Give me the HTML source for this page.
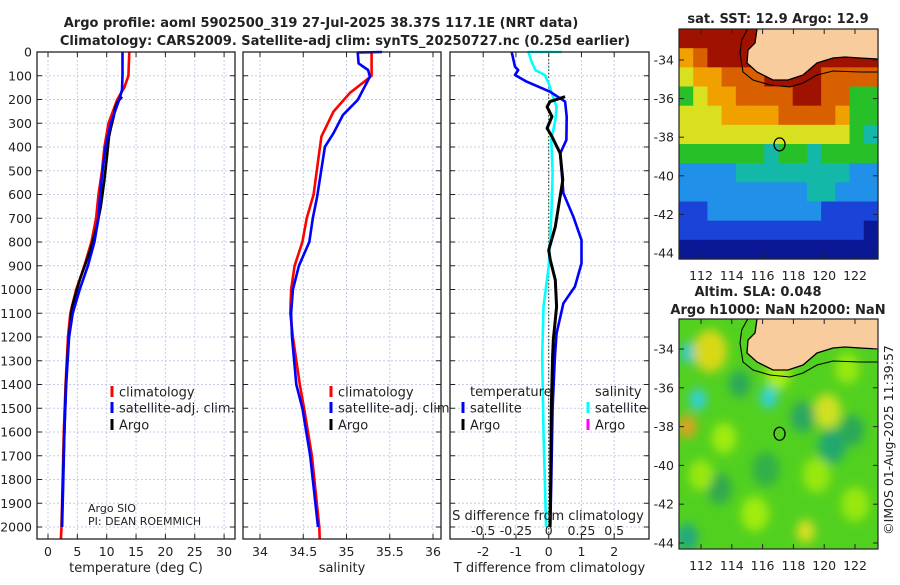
<!DOCTYPE html>
<html><head><meta charset="utf-8"><style>
body{margin:0;background:#fff}
svg text{font-family:"DejaVu Sans","Liberation Sans",sans-serif;fill:#222}
</style></head><body>
<svg id="fig" width="900" height="580" viewBox="0 0 900 580" xmlns="http://www.w3.org/2000/svg">
<text x="321" y="27" font-size="13" font-weight="bold" text-anchor="middle">Argo profile: aoml 5902500_319 27-Jul-2025 38.37S 117.1E (NRT data)</text>
<text x="345" y="45" font-size="13" font-weight="bold" text-anchor="middle">Climatology: CARS2009. Satellite-adj clim: synTS_20250727.nc (0.25d earlier)</text>
<g id="p1"></g>
<g id="p2"></g>
<g id="p3"></g>
<g id="m1"></g>
<g id="m2"></g>
<text x="778" y="23" font-size="13" font-weight="bold" text-anchor="middle">sat. SST: 12.9 Argo: 12.9</text>
<text x="758" y="296" font-size="13" font-weight="bold" text-anchor="middle">Altim. SLA: 0.048</text>
<text x="778" y="314" font-size="13" font-weight="bold" text-anchor="middle">Argo h1000: NaN h2000: NaN</text>
<text x="0" y="0" font-size="12.5" text-anchor="middle" transform="translate(893,440) rotate(-90)">©IMOS 01-Aug-2025 11:39:57</text>
</svg>
<script>
// ---------- data ----------
const depthTicks=[0,100,200,300,400,500,600,700,800,900,1000,1100,1200,1300,1400,1500,1600,1700,1800,1900,2000];
const tTicks=[0,5,10,15,20,25,30];
const sTicks=[34,34.5,35,35.5,36];
const dTTicks=[-2,-1,0,1,2];
const dSTicks=[-0.5,-0.25,0,0.25,0.5];
const dSTickLabels=["-0.5","-0.25","0","0.25","0.5"];
const climTdep=[0,100,150,170,200,300,400,500,600,700,800,900,1000,1100,1200,1400,1600,1800,2000,2050];
const climT=[13.85,13.7,13.0,12.5,11.8,10.3,9.6,9.2,8.6,8.2,7.4,6.2,4.8,3.8,3.4,3.0,2.7,2.5,2.3,2.2];
const satTdep=[0,100,160,200,300,400,500,600,700,800,900,1000,1100,1200,1400,1600,1800,2000];
const satT=[12.7,12.7,12.6,12.15,10.7,9.8,9.3,8.9,8.6,7.9,6.8,5.4,4.2,3.6,3.1,2.8,2.6,2.4];
const argoTdep=[188,209,231,272,321,356,427,539,651,736,834,960,1072,1212,1400,1700,2000];
const argoT=[12.6,11.9,11.5,11.2,10.7,10.4,10.1,9.6,9.0,8.3,7.2,5.4,4.1,3.5,3.05,2.65,2.35];
const climSdep=[0,100,118,172,251,356,461,600,700,800,900,1000,1100,1200,1400,1500,1700,2000,2050];
const climS=[35.29,35.29,35.23,35.04,34.85,34.71,34.67,34.62,34.54,34.49,34.40,34.36,34.35,34.38,34.46,34.51,34.60,34.685,34.69];
const satSdep=[0,2,48,76,104,202,265,342,399,610,700,800,900,1000,1100,1200,1400,1500,1700,2000];
const satS=[35.41,35.13,35.14,35.25,35.27,35.13,34.96,34.85,34.75,34.66,34.61,34.57,34.45,34.38,34.36,34.37,34.42,34.49,34.58,34.67];
const dTsatDep=[0,62,76,97,125,167,209,272,370,427,511,595,693,792,890,988,1058,1184,1283,1500,1800,2000];
const dTsat=[-1.13,-1.03,-0.93,-1.03,-0.67,0.04,0.5,0.55,0.54,0.35,0.4,0.45,0.75,1.0,1.0,0.8,0.45,0.24,0.19,0.12,0.08,0.05];
const dTargoDep=[188,209,231,272,321,356,427,539,651,736,834,876,960,1072,1212,1283,1500,1800,2000];
const dTargo=[0.5,0.04,-0.05,0.1,-0.05,0.1,0.35,0.43,0.3,0.2,0,0.05,0.2,0.24,0.14,0.12,0.08,0.06,0.04];
const dSsatDep=[0,0,42,77,97,132,167,231,287,370,511,693,904,1072,1283,1600,2000];
const dSsat=[0.1,-0.155,-0.13,-0.10,-0.03,0.0,0.02,0.06,0.05,0.02,0.03,0.02,0,-0.04,-0.05,-0.04,-0.02];
const sstRows=["88888888888888","67888888888888","56677788887777","45667777887744","55566667777644","55555555555543","44444434434444","22223333333322","22222222233222","11222222221111","11111111111110","00000000000000"];
const sstColors=["#0a1896","#1a44d8","#2090e8","#14b8a8","#28c028","#d8e020","#f0a000","#d86000","#a01200"];
const slaBlobs=[[111.2,-34.2,0.55,"#30c8c8"],[112.7,-33.8,0.7,"#d06010"],[112.6,-34.1,1.1,"#d8d818"],[111.8,-36.6,0.55,"#30d0e0"],[116.4,-36.5,0.55,"#30d0e0"],[120.2,-37.2,0.55,"#e07010"],[120.2,-37.2,0.9,"#d0e020"],[111.1,-38.0,0.6,"#e0a020"],[120.5,-39.0,0.9,"#20a870"],[114.5,-35.8,0.7,"#2aa85a"],[118.6,-37.5,0.8,"#2aa860"],[113.2,-41.2,0.8,"#30a850"],[111.1,-43.7,0.7,"#20a880"],[118.8,-43.4,0.6,"#d8e020"],[115.5,-42.5,0.9,"#a0ec10"],[119.5,-40.5,0.9,"#98e810"],[112,-40.5,0.8,"#98e810"],[122,-42,0.9,"#98e810"],[117,-35.3,0.8,"#a8ee10"],[121.5,-35,0.8,"#98e810"],[116.2,-40.2,0.9,"#30b048"],[121.8,-38.2,0.8,"#2aa858"],[113.5,-38.6,0.8,"#a0ec10"]];
// ---------- helpers ----------
const NS="http://www.w3.org/2000/svg";
function mk(parent,tag,attrs){const e=document.createElementNS(NS,tag);for(const k in attrs)e.setAttribute(k,attrs[k]);parent.appendChild(e);return e;}
const Y0=52,YS=0.2375,PT=52,PB=539;
const yD=d=>Y0+d*YS;
function panel(g,x0,x1,xScale,ticks,labels,title){
  mk(g,'rect',{x:x0,y:PT,width:x1-x0,height:PB-PT,fill:'#fff'});
  depthTicks.forEach(d=>{const l=mk(g,'line',{x1:x0,x2:x1,y1:yD(d),y2:yD(d),stroke:'#c4cbe8','stroke-width':1,'stroke-dasharray':'2,2'});
    mk(g,'line',{x1:x0,x2:x0+5,y1:yD(d),y2:yD(d),stroke:'#222'});mk(g,'line',{x1:x1-5,x2:x1,y1:yD(d),y2:yD(d),stroke:'#222'});});
  ticks.forEach((t,i)=>{const x=xScale(t);const l=mk(g,'line',{x1:x,x2:x,y1:PT,y2:PB,stroke:'#c4cbe8','stroke-width':1,'stroke-dasharray':'2,2'});
    mk(g,'line',{x1:x,x2:x,y1:PB-5,y2:PB,stroke:'#222'});mk(g,'line',{x1:x,x2:x,y1:PT,y2:PT+5,stroke:'#222'});
    if(labels){const tx=mk(g,'text',{x:x,y:556,'font-size':12.5,'text-anchor':'middle'});tx.textContent=labels[i];}});
  if(title){const t=mk(g,'text',{x:(x0+x1)/2,y:572,'font-size':13,'text-anchor':'middle'});t.textContent=title;}
}
function frame(g,x0,x1){const r=mk(g,'rect',{x:x0,y:PT,width:x1-x0,height:PB-PT,fill:'none',stroke:'#222','stroke-width':1.3});}
function curve(g,xs,ds,xScale,color,name,w){const pts=xs.map((v,i)=>xScale(v).toFixed(1)+','+yD(ds[i]).toFixed(1)).join(' ');
  const p=mk(g,'polyline',{points:pts,fill:'none',stroke:color,'stroke-width':w||2.6,'stroke-linejoin':'round'});
  
  }
function legend(g,x,y,color,label){mk(g,'rect',{x:x-1.5,y:y-6,width:3,height:11,fill:color});const t=mk(g,'text',{x:x+7,y:y+4.5,'font-size':13});t.textContent=label;}
// ---------- panel 1 ----------
const g1=document.getElementById('p1');
const xT=v=>48+v*5.87;
panel(g1,37,235,xT,tTicks,tTicks.map(String),'temperature (deg C)');
depthTicks.forEach(d=>{const t=mk(g1,'text',{x:32,y:yD(d)+4.5,'font-size':12.5,'text-anchor':'end'});t.textContent=String(d);});
curve(g1,climT,climTdep,xT,'#ff0000','temp-climatology-line');
curve(g1,argoT,argoTdep,xT,'#000','temp-argo-line');
curve(g1,satT,satTdep,xT,'#0000ff','temp-satellite-line');
legend(g1,112,392,'#ff0000','climatology');legend(g1,112,408,'#0000ff','satellite-adj. clim.');legend(g1,112,425,'#000','Argo');
{const t=mk(g1,'text',{x:88,y:512,'font-size':11});t.textContent='Argo SIO';const t2=mk(g1,'text',{x:88,y:525,'font-size':11});t2.textContent='PI: DEAN ROEMMICH';}
frame(g1,37,235);
// ---------- panel 2 ----------
const g2=document.getElementById('p2');
const xS=v=>260+(v-34)*86.5;
panel(g2,243,441,xS,sTicks,sTicks.map(String),'salinity');
curve(g2,climS,climSdep,xS,'#ff0000','sal-climatology-line');
curve(g2,satS,satSdep,xS,'#0000ff','sal-satellite-line');
legend(g2,331,392,'#ff0000','climatology');legend(g2,331,408,'#0000ff','satellite-adj. clim.');legend(g2,331,425,'#000','Argo');
frame(g2,243,441);
// ---------- panel 3 ----------
const g3=document.getElementById('p3');
const xdT=v=>548.7+v*32.75, xdS=v=>548.7+v*131;
panel(g3,450,649,xdT,dTTicks,dTTicks.map(String),'T difference from climatology');
mk(g3,'line',{x1:xdT(0),x2:xdT(0),y1:PT,y2:PB,stroke:'#335533','stroke-width':1.2,'stroke-dasharray':'1.5,2'});
curve(g3,dSsat,dSsatDep,xdS,'#00ffff','sdiff-satellite-line');
curve(g3,dTsat,dTsatDep,xdT,'#0000ff','tdiff-satellite-line');
curve(g3,dTargo,dTargoDep,xdT,'#000','tdiff-argo-line',3);
{const t=mk(g3,'text',{x:470,y:396,'font-size':13});t.textContent='temperature';const s=mk(g3,'text',{x:595,y:396,'font-size':13});s.textContent='salinity';}
legend(g3,463,408,'#0000ff','satellite');legend(g3,463,425,'#000','Argo');legend(g3,588,408,'#00ffff','satellite');legend(g3,588,425,'#ff00ff','Argo');
{const t=mk(g3,'text',{x:548,y:520,'font-size':13,'text-anchor':'middle'});t.textContent='S difference from climatology';}
dSTicks.forEach((v,i)=>{const t=mk(g3,'text',{x:xdS(v),y:535,'font-size':12.5,'text-anchor':'middle'});t.textContent=dSTickLabels[i];});
frame(g3,450,649);
// ---------- maps ----------
const lonX=lon=>701+(lon-112)*15.4;
const latTicks=[-34,-36,-38,-40,-42,-44], lonTicks=[112,114,116,118,120,122];
function mapAxes(g,top,bottom,latY,labY){
  latTicks.forEach(l=>{const y=latY(l);mk(g,'line',{x1:679,x2:684,y1:y,y2:y,stroke:'#222'});mk(g,'line',{x1:873,x2:878,y1:y,y2:y,stroke:'#222'});
    const t=mk(g,'text',{x:674,y:y+4.5,'font-size':12.5,'text-anchor':'end'});t.textContent=String(l);});
  lonTicks.forEach(l=>{const x=lonX(l);mk(g,'line',{x1:x,x2:x,y1:bottom-5,y2:bottom,stroke:'#222'});mk(g,'line',{x1:x,x2:x,y1:top,y2:top+5,stroke:'#222'});
    const t=mk(g,'text',{x:x,y:labY,'font-size':12.5,'text-anchor':'middle'});t.textContent=String(l);});
}
function land(g,dy){
  const shelf=[[747.7,29],[741.7,40],[740,53],[743,72],[753,80],[770,85],[790,87],[803,83],[817,75],[833,71],[860,72],[878,72]];
  const coast=[[757,29],[755,43],[748,50],[747,63],[757,72],[773,80],[788,80],[803,75],[817,63],[833,58],[845,57],[860,58],[878,59]];
  const pts=coast.map(p=>p[0]+','+(p[1]+dy)).join(' ');
  const lp=mk(g,'polygon',{points:pts+' 878,'+(29+dy)+' 757,'+(29+dy),fill:'#f9cc9e'});
  mk(g,'polyline',{points:pts,fill:'none',stroke:'#000','stroke-width':1.3});
  mk(g,'polyline',{points:shelf.map(p=>p[0]+','+(p[1]+dy)).join(' '),fill:'none',stroke:'#000','stroke-width':1.1});
}
// map1 SST
const m1=document.getElementById('m1');
const latY1=lat=>60+(-34-lat)*19.3;
const cw=199/14, ch=230/12;
sstRows.forEach((row,r)=>{for(let c=0;c<row.length;c++){const rc=mk(m1,'rect',{x:(679+c*cw).toFixed(2),y:(29+r*ch).toFixed(2),width:(cw+0.6).toFixed(2),height:(ch+0.6).toFixed(2),fill:sstColors[+row[c]]});
  
  }});
land(m1,0);
mk(m1,'ellipse',{cx:lonX(117.1),cy:latY1(-38.37),rx:5.5,ry:6.5,fill:'none',stroke:'#000','stroke-width':1.3});
mk(m1,'rect',{x:679,y:29,width:199,height:230,fill:'none',stroke:'#222','stroke-width':1.2});
mapAxes(m1,29,259,latY1,280);
// map2 SLA
const m2=document.getElementById('m2');
const latY2=lat=>349+(-34-lat)*19.4;
const defs=mk(m2,'defs',{});
const clip=mk(defs,'clipPath',{id:'clip2'});mk(clip,'rect',{x:679,y:319,width:199,height:230});
const flt=mk(defs,'filter',{id:'blur2',x:'-50%',y:'-50%',width:'200%',height:'200%'});mk(flt,'feGaussianBlur',{stdDeviation:5});
const bg=mk(m2,'g',{'clip-path':'url(#clip2)'});
mk(bg,'rect',{x:679,y:319,width:199,height:230,fill:'#52d020'});
const bl=mk(bg,'g',{filter:'url(#blur2)'});
slaBlobs.forEach(b=>{const e=mk(bl,'ellipse',{cx:lonX(b[0]),cy:latY2(b[1]),rx:b[2]*15.4,ry:b[2]*19.4,fill:b[3]});
  
  });
land(m2,290);
mk(m2,'ellipse',{cx:lonX(117.1),cy:latY2(-38.37),rx:5.5,ry:6.5,fill:'none',stroke:'#000','stroke-width':1.3});
mk(m2,'rect',{x:679,y:319,width:199,height:230,fill:'none',stroke:'#222','stroke-width':1.2});
mapAxes(m2,319,549,latY2,570);
</script>
</body></html>
